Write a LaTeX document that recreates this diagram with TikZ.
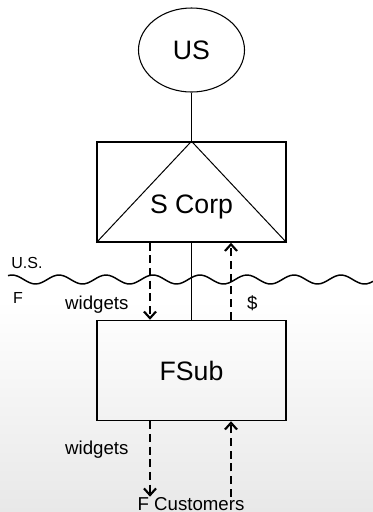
\documentclass[tikz,border=0pt]{standalone}
\usepackage{fontspec}
\setmainfont{Liberation Sans}
\usetikzlibrary{arrows.meta, positioning, shapes.geometric, calc}

\begin{document}
\begin{tikzpicture}[
        x=0.75pt, y=-0.75pt,
        big/.style={font=\fontsize{20}{24}\selectfont},
        small/.style={font=\fontsize{14}{17}\selectfont},
        side-label/.style={font=\fontsize{12}{14}\selectfont},
        owner/.style={ellipse, draw=black, line width=0.8pt, minimum width=79.5pt, minimum height=63pt, inner sep=0pt, big},
        entity/.style={rectangle, draw=black, line width=1.1pt, minimum width=141.75pt, minimum height=75pt, inner sep=0pt, big},
        link/.style={draw=black, line width=0.75pt},
        flow/.style={-{Straight Barb[length=5pt, width=9pt]}, line width=1.6pt, dash pattern=on 6pt off 3.5pt},
        border/.style={black, line width=1.1pt},
    ]
        % Background
        \fill[white] (0,0) rectangle (373,512);
        \shade[top color=white, bottom color=black!9] (0,300) rectangle (373,512);
        \useasboundingbox (0,0) rectangle (373,512);

        % Entities
        \node[owner] (US) at (191.5,50) {US};
        \node[entity] (SC) at (191.5,192) {};
        \node[entity] (FS) at (191.5,370.5) {FSub};
        \node[small, inner sep=0pt, anchor=base] (FC) at (191,510) {F Customers};

        % S Corp triangle
        \draw[link] (SC.south west) -- (SC.north) -- (SC.south east);
        \node[big] (SCname) at ([yshift=-11pt]SC.center) {S Corp};

        % Border line
        \draw[border] plot[domain=8:373, samples=120, smooth] (\x, {279.5 - 4.5*cos(7.66*(\x-12))});
        \node[side-label] (USside) at (27,263) {U.S.};
        \node[side-label] (Fside) at (18,298) {F};

        % Ownership lines
        \draw[link] (US) -- (SC.north);
        \draw[link] (SC) -- (FS);

        % Flows
        \coordinate (goods) at (150,0);
        \coordinate (cash) at (231,0);
        \draw[flow] (SC.south -| goods) -- node[small, pos=0.8, left=12pt] {widgets} (FS.north -| goods);
        \draw[flow] (FS.north -| cash) -- node[small, pos=0.22, right=8pt] {\$} (SC.south -| cash);
        \draw[flow] (FS.south -| goods) -- node[small, pos=0.38, left=12pt] {widgets} (FC.north -| goods);
        \draw[flow] (FC.north -| cash) -- (FS.south -| cash);
    \end{tikzpicture}
\end{document}
